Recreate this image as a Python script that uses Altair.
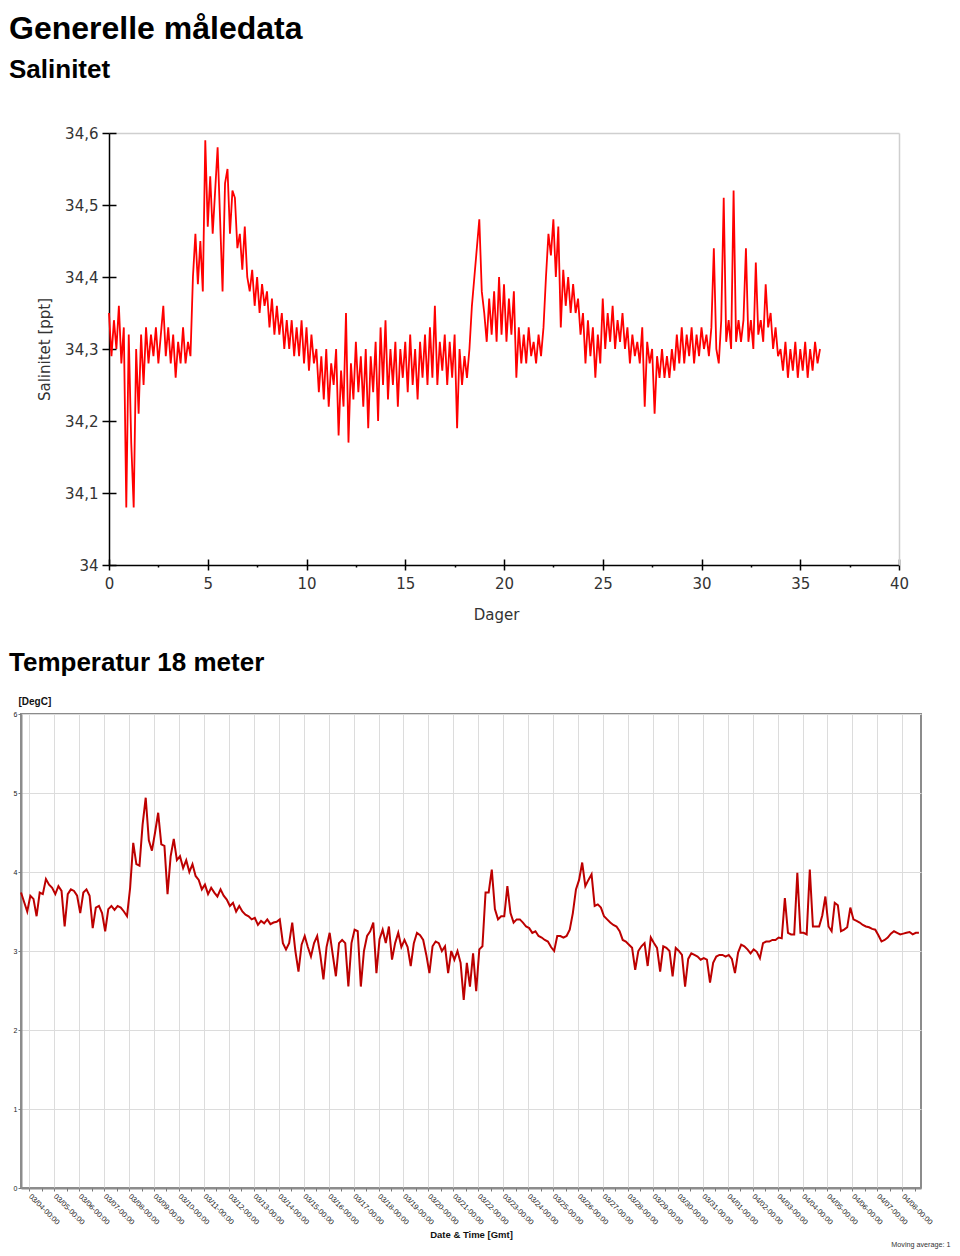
import altair as alt
import pandas as pd

# ---------------- data ----------------
# Salinity, sampled every 3 hours (0.125 day) from day 0
SAL_FIRST_DAY = 0.0
SAL_STEP_DAYS = 0.125
SAL_VALUES = [
    34.35, 34.29, 34.34, 34.30, 34.36, 34.28, 34.33, 34.08,   # day 0
    34.32, 34.17, 34.08, 34.30, 34.21, 34.32, 34.25, 34.33,   # day 1
    34.28, 34.32, 34.29, 34.33, 34.28, 34.32, 34.36, 34.29,   # day 2
    34.33, 34.28, 34.32, 34.26, 34.31, 34.28, 34.33, 34.28,   # day 3
    34.31, 34.29, 34.40, 34.46, 34.39, 34.45, 34.38, 34.59,   # day 4
    34.47, 34.54, 34.46, 34.52, 34.58, 34.48, 34.38, 34.53,   # day 5
    34.55, 34.46, 34.52, 34.51, 34.44, 34.46, 34.41, 34.47,   # day 6
    34.40, 34.38, 34.41, 34.36, 34.40, 34.35, 34.39, 34.36,   # day 7
    34.38, 34.33, 34.37, 34.32, 34.36, 34.32, 34.35, 34.30,   # day 8
    34.34, 34.30, 34.34, 34.29, 34.33, 34.29, 34.34, 34.28,   # day 9
    34.33, 34.27, 34.32, 34.28, 34.30, 34.24, 34.29, 34.23,   # day 10
    34.30, 34.22, 34.28, 34.25, 34.30, 34.18, 34.27, 34.22,   # day 11
    34.35, 34.17, 34.28, 34.23, 34.31, 34.24, 34.29, 34.22,   # day 12
    34.30, 34.19, 34.29, 34.24, 34.31, 34.20, 34.33, 34.25,   # day 13
    34.34, 34.23, 34.30, 34.25, 34.31, 34.22, 34.30, 34.26,   # day 14
    34.31, 34.24, 34.32, 34.25, 34.30, 34.23, 34.31, 34.26,   # day 15
    34.32, 34.25, 34.33, 34.26, 34.36, 34.25, 34.31, 34.27,   # day 16
    34.32, 34.25, 34.31, 34.26, 34.32, 34.19, 34.30, 34.25,   # day 17
    34.29, 34.26, 34.30, 34.36, 34.40, 34.44, 34.48, 34.38,   # day 18
    34.35, 34.31, 34.37, 34.32, 34.38, 34.31, 34.40, 34.32,   # day 19
    34.39, 34.31, 34.37, 34.32, 34.38, 34.26, 34.33, 34.28,   # day 20
    34.32, 34.28, 34.33, 34.29, 34.31, 34.28, 34.32, 34.29,   # day 21
    34.33, 34.40, 34.46, 34.43, 34.48, 34.40, 34.47, 34.33,   # day 22
    34.41, 34.36, 34.40, 34.35, 34.39, 34.35, 34.37, 34.32,   # day 23
    34.35, 34.28, 34.34, 34.29, 34.33, 34.26, 34.32, 34.28,   # day 24
    34.37, 34.30, 34.35, 34.31, 34.36, 34.30, 34.34, 34.31,   # day 25
    34.35, 34.30, 34.33, 34.28, 34.32, 34.29, 34.31, 34.28,   # day 26
    34.33, 34.22, 34.31, 34.28, 34.30, 34.21, 34.29, 34.26,   # day 27
    34.30, 34.26, 34.29, 34.26, 34.30, 34.27, 34.32, 34.28,   # day 28
    34.33, 34.28, 34.32, 34.29, 34.33, 34.28, 34.32, 34.29,   # day 29
    34.33, 34.30, 34.32, 34.29, 34.33, 34.44, 34.30, 34.28,   # day 30
    34.34, 34.51, 34.31, 34.34, 34.30, 34.52, 34.31, 34.34,   # day 31
    34.31, 34.34, 34.44, 34.31, 34.34, 34.30, 34.42, 34.32,   # day 32
    34.34, 34.31, 34.39, 34.33, 34.35, 34.30, 34.33, 34.29,   # day 33
    34.30, 34.27, 34.31, 34.26, 34.30, 34.27, 34.31, 34.26,   # day 34
    34.30, 34.27, 34.31, 34.26, 34.30, 34.27, 34.31, 34.28,   # day 35
    34.30,                                                    # day 36
]
SAL_X_TICKS = [0, 5, 10, 15, 20, 25, 30, 35, 40]
SAL_X_MINOR = [2.5, 7.5, 12.5, 17.5, 22.5, 27.5, 32.5, 37.5]
SAL_Y_TICKS = [34.0, 34.1, 34.2, 34.3, 34.4, 34.5, 34.6]

# Temperature at 18 m, sampled every 3 hours from 03/03 16:00 GMT
TEMP_FIRST_TIME = "2013-03-03 16:00"
TEMP_STEP_HOURS = 3
TEMP_VALUES = [
    3.74, 3.62, 3.50,                                   # 03/03
    3.70, 3.66, 3.44, 3.74, 3.72, 3.91, 3.84, 3.80,     # 03/04
    3.72, 3.82, 3.76, 3.31, 3.72, 3.78, 3.76, 3.70,     # 03/05
    3.48, 3.74, 3.78, 3.70, 3.29, 3.55, 3.57, 3.48,     # 03/06
    3.25, 3.53, 3.57, 3.52, 3.57, 3.55, 3.50, 3.44,     # 03/07
    3.80, 4.37, 4.10, 4.08, 4.60, 4.94, 4.40, 4.27,     # 03/08
    4.50, 4.75, 4.35, 4.33, 3.72, 4.20, 4.42, 4.15,     # 03/09
    4.20, 4.05, 4.15, 4.00, 4.10, 3.95, 3.90, 3.78,     # 03/10
    3.84, 3.72, 3.80, 3.74, 3.69, 3.78, 3.70, 3.65,     # 03/11
    3.57, 3.61, 3.50, 3.57, 3.50, 3.46, 3.44, 3.40,     # 03/12
    3.42, 3.33, 3.38, 3.35, 3.40, 3.34, 3.36, 3.37,     # 03/13
    3.40, 3.10, 3.02, 3.10, 3.36, 3.00, 2.74, 3.08,     # 03/14
    3.19, 3.05, 2.93, 3.10, 3.19, 2.95, 2.64, 3.05,     # 03/15
    3.23, 2.95, 2.68, 3.10, 3.14, 3.10, 2.55, 3.10,     # 03/16
    3.27, 3.25, 2.55, 3.00, 3.19, 3.25, 3.36, 2.72,     # 03/17
    3.15, 3.27, 3.10, 3.31, 2.89, 3.10, 3.23, 3.05,     # 03/18
    3.14, 3.05, 2.81, 3.10, 3.23, 3.20, 3.14, 2.95,     # 03/19
    2.72, 3.06, 3.12, 3.10, 3.00, 3.06, 2.72, 3.00,     # 03/20
    2.89, 3.00, 2.85, 2.38, 2.85, 2.55, 2.97, 2.49,     # 03/21
    3.02, 3.06, 3.74, 3.74, 4.03, 3.53, 3.40, 3.44,     # 03/22
    3.44, 3.82, 3.48, 3.36, 3.40, 3.40, 3.36, 3.31,     # 03/23
    3.29, 3.23, 3.25, 3.19, 3.17, 3.14, 3.12, 3.05,     # 03/24
    3.00, 3.19, 3.19, 3.17, 3.19, 3.27, 3.48, 3.78,     # 03/25
    3.90, 4.12, 3.82, 3.90, 3.97, 3.57, 3.59, 3.55,     # 03/26
    3.44, 3.40, 3.36, 3.33, 3.31, 3.25, 3.14, 3.12,     # 03/27
    3.08, 3.04, 2.76, 3.00, 3.06, 3.10, 2.81, 3.17,     # 03/28
    3.10, 3.04, 2.74, 3.06, 3.04, 3.00, 2.68, 3.04,     # 03/29
    3.00, 2.95, 2.55, 2.90, 2.97, 2.95, 2.93, 2.89,     # 03/30
    2.91, 2.89, 2.60, 2.85, 2.93, 2.95, 2.95, 2.93,     # 03/31
    2.95, 2.90, 2.72, 2.98, 3.08, 3.06, 3.02, 2.97,     # 04/01
    3.02, 2.99, 2.91, 3.10, 3.12, 3.12, 3.14, 3.14,     # 04/02
    3.17, 3.16, 3.67, 3.23, 3.21, 3.21, 3.99, 3.23,     # 04/03
    3.23, 3.21, 4.03, 3.31, 3.31, 3.31, 3.45, 3.69,     # 04/04
    3.31, 3.25, 3.61, 3.58, 3.25, 3.27, 3.30, 3.55,     # 04/05
    3.40, 3.38, 3.36, 3.33, 3.31, 3.30, 3.28, 3.27,     # 04/06
    3.20, 3.12, 3.14, 3.17, 3.22, 3.25, 3.23, 3.21,     # 04/07
    3.22, 3.23, 3.24, 3.21, 3.23, 3.23,                 # 04/08
]
TEMP_YEAR = 2013
TEMP_DAY_LABELS = [
    "03/04", "03/05", "03/06", "03/07", "03/08", "03/09", "03/10", "03/11",
    "03/12", "03/13", "03/14", "03/15", "03/16", "03/17", "03/18", "03/19",
    "03/20", "03/21", "03/22", "03/23", "03/24", "03/25", "03/26", "03/27",
    "03/28", "03/29", "03/30", "03/31", "04/01", "04/02", "04/03", "04/04",
    "04/05", "04/06", "04/07", "04/08",
]
TEMP_X_START = "2013-03-03 16:00"
TEMP_X_END = "2013-04-08 18:00"
TEMP_Y_TICKS = [0, 1, 2, 3, 4, 5, 6]


def ms(ts):
    return int(pd.Timestamp(ts, tz="UTC").value // 10**6)


# ---------------- tables ----------------
sal_df = pd.DataFrame({
    "day": [SAL_FIRST_DAY + i * SAL_STEP_DAYS for i in range(len(SAL_VALUES))],
    "sal": SAL_VALUES,
})
t0 = pd.Timestamp(TEMP_FIRST_TIME, tz="UTC")
temp_df = pd.DataFrame({
    "time": [int((t0 + pd.Timedelta(hours=TEMP_STEP_HOURS * i)).value // 10**6)
             for i in range(len(TEMP_VALUES))],
    "temp": TEMP_VALUES,
})
midnights = [ms(f"{TEMP_YEAR}-{d.replace('/', '-')} 00:00") for d in TEMP_DAY_LABELS]
noons = [ms(f"{TEMP_YEAR}-{d.replace('/', '-')} 12:00") for d in TEMP_DAY_LABELS]

SANS = "DejaVu Sans"
ARIAL = "Liberation Sans"

# ---------------- salinity chart ----------------
sx = alt.Scale(domain=[0, 40], range=[88, 878], nice=False, zero=False)
sy = alt.Scale(domain=[34.0, 34.6], nice=False, zero=False)
sal_label = "replace(format(datum.value, '~g'), '.', ',')"

sal_base = alt.Chart(sal_df)

sal_line = sal_base.mark_line(color="#ff0000", strokeWidth=1.8).encode(
    x=alt.X("day:Q", scale=sx, axis=alt.Axis(
        orient="bottom", values=SAL_X_TICKS, tickSize=5, tickWidth=1.5, tickColor="#000",
        domainColor="#000", domainWidth=1.5, labelPadding=6, labelFont=SANS,
        labelFontSize=15, labelColor="#333", labelFlush=False, labelOverlap=False,
        grid=False, title="Dager", titleFont=SANS, titleFontSize=15,
        titleFontWeight="normal", titleColor="#333", titleX=475, titleY=42,
        titleBaseline="top")),
    y=alt.Y("sal:Q", scale=sy, axis=alt.Axis(
        orient="left", offset=-88, values=SAL_Y_TICKS, labelExpr=sal_label,
        tickSize=7, tickWidth=1.5, tickColor="#000", domainColor="#000",
        domainWidth=1.5, labelPadding=4, labelFont=SANS, labelFontSize=15,
        labelColor="#333", labelOverlap=False, labelFlush=False, grid=False,
        title="Salinitet [ppt]", titleFont=SANS, titleFontSize=15,
        titleFontWeight="normal", titleColor="#333", titlePadding=12)),
)

sal_frame = sal_base.mark_line(strokeOpacity=0).encode(
    x=alt.X("day:Q", scale=sx, axis=alt.Axis(
        orient="top", ticks=False, labels=False, grid=False,
        domainColor="#cfcfcf", domainWidth=1.5), title=None),
    y=alt.Y("sal:Q", scale=sy, axis=alt.Axis(
        orient="right", ticks=False, labels=False, grid=False,
        domainColor="#cfcfcf", domainWidth=1.5), title=None),
)

sal_inner_ticks = sal_base.mark_line(strokeOpacity=0).encode(
    x=alt.X("day:Q", scale=sx, axis=alt.Axis(
        orient="bottom", offset=-6, values=SAL_X_TICKS, tickSize=6, tickWidth=1.5,
        tickColor="#000", labels=False, domain=False, grid=False), title=None),
    y=alt.Y("sal:Q", scale=sy, axis=alt.Axis(
        orient="left", offset=-95, values=SAL_Y_TICKS, tickSize=7, tickWidth=1.5,
        tickColor="#000", labels=False, domain=False, grid=False), title=None),
)

sal_minor = sal_base.mark_line(strokeOpacity=0).encode(
    x=alt.X("day:Q", scale=sx, axis=alt.Axis(
        orient="bottom", values=SAL_X_MINOR, tickSize=2, tickWidth=1.5,
        tickColor="#000", labels=False, domain=False, grid=False), title=None),
    y=alt.Y("sal:Q", scale=sy, axis=None),
)

sal_chart = alt.layer(sal_line, sal_frame, sal_inner_ticks, sal_minor).resolve_axis(
    x="independent", y="independent"
).properties(
    width=878, height=432,
    title=alt.TitleParams("Salinitet", anchor="start", frame="group", dx=-12,
                          font=ARIAL, fontSize=26, fontWeight="bold", color="#000",
                          offset=17, baseline="bottom"),
)

# ---------------- temperature chart ----------------
tx = alt.Scale(type="utc", domain=[ms(TEMP_X_START), ms(TEMP_X_END)], nice=False)
ty = alt.Scale(domain=[0, 6], nice=False, zero=False)

temp_base = alt.Chart(temp_df)

temp_line = temp_base.mark_line(color="#bd0000", strokeWidth=2).encode(
    x=alt.X("time:T", scale=tx, axis=alt.Axis(
        orient="bottom", values=midnights,
        labelExpr="utcFormat(datum.value, '%m/%d-%H:%M')",
        grid=True, gridColor="#dcdcdc", gridWidth=1, tickSize=3, tickColor="#777",
        domainColor="#8c8c8c", domainWidth=2, labelAngle=45, labelAlign="left",
        labelBaseline="middle", labelPadding=4, labelFont=ARIAL, labelFontSize=7.5,
        labelColor="#222", labelFlush=False, labelOverlap=False,
        title="Date & Time [Gmt]", titleFont=ARIAL, titleFontSize=9.5,
        titleFontWeight="bold", titleColor="#111", titleX=450, titleY=46,
        titleAlign="center", titleBaseline="middle")),
    y=alt.Y("temp:Q", scale=ty, axis=alt.Axis(
        orient="left", values=TEMP_Y_TICKS, grid=True, gridColor="#dcdcdc",
        gridWidth=1, tickSize=3, tickColor="#777", domainColor="#8c8c8c",
        domainWidth=2, labelPadding=1, labelFont=ARIAL, labelFontSize=7,
        labelColor="#222", labelFlush=False, labelOverlap=False,
        title="[DegC]", titleAngle=0, titleX=-3, titleY=-13, titleAlign="left",
        titleBaseline="middle", titleFont=ARIAL, titleFontSize=10,
        titleFontWeight="bold", titleColor="#111")),
)

temp_minor = temp_base.mark_line(strokeOpacity=0).encode(
    x=alt.X("time:T", scale=tx, axis=alt.Axis(
        orient="bottom", values=noons, tickSize=3, tickColor="#777",
        labels=False, domain=False, grid=False,
        title="Moving average: 1", titleFont=ARIAL, titleFontSize=7.2,
        titleFontWeight="normal", titleColor="#333", titleX=929, titleY=56,
        titleAlign="right", titleBaseline="middle")),
    y=alt.Y("temp:Q", scale=ty, axis=None),
)

temp_chart = alt.layer(temp_line, temp_minor).resolve_axis(
    x="independent", y="independent"
).properties(
    width=900, height=474,
    view=alt.ViewBackground(stroke="#8c8c8c", strokeWidth=2),
    title=alt.TitleParams("Temperatur 18 meter", anchor="start", frame="group", dx=-12,
                          font=ARIAL, fontSize=26, fontWeight="bold", color="#000",
                          offset=-6, baseline="bottom"),
)

chart = alt.vconcat(sal_chart, temp_chart, spacing=26).properties(
    padding={"top": 4, "left": 0, "right": 0, "bottom": 0},
    title=alt.TitleParams("Generelle måledata", anchor="start", frame="group", dx=-12,
                          font=ARIAL, fontSize=32, fontWeight="bold", color="#000",
                          offset=-21, baseline="bottom"),
).configure_view(stroke="transparent")

chart.save("out.html", embed_options={"renderer": "svg", "actions": False})
